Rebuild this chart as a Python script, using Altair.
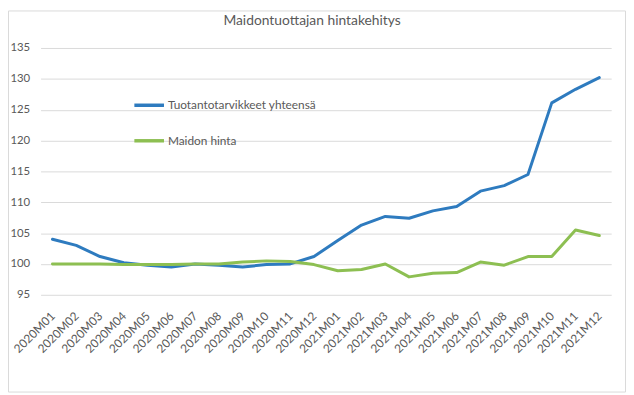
import altair as alt
import pandas as pd

months = ["2020M01", "2020M02", "2020M03", "2020M04", "2020M05", "2020M06",
          "2020M07", "2020M08", "2020M09", "2020M10", "2020M11", "2020M12",
          "2021M01", "2021M02", "2021M03", "2021M04", "2021M05", "2021M06",
          "2021M07", "2021M08", "2021M09", "2021M10", "2021M11", "2021M12"]
tuotantotarvikkeet = [104.0, 103.0, 101.2, 100.2, 99.8, 99.5, 100.0, 99.8, 99.5, 99.9, 100.0, 101.2,
                      103.8, 106.3, 107.7, 107.4, 108.6, 109.3, 111.8, 112.7, 114.5, 126.1, 128.3, 130.2]
maidon_hinta = [100.0, 100.0, 100.0, 99.9, 99.9, 99.9, 100.0, 100.0, 100.3, 100.5, 100.4, 99.9,
                98.9, 99.1, 100.0, 97.9, 98.5, 98.6, 100.3, 99.8, 101.2, 101.2, 105.5, 104.6]
series_names = ["Tuotantotarvikkeet yhteensä", "Maidon hinta"]
series_colors = ["#2E7BBF", "#8DBF52"]
y_ticks = [95, 100, 105, 110, 115, 120, 125, 130, 135]

rows = []
for name, vals in zip(series_names, [tuotantotarvikkeet, maidon_hinta]):
    for m, v in zip(months, vals):
        rows.append({"kuukausi": m, "sarja": name, "arvo": v})
df = pd.DataFrame(rows)

FONT = "Lato"
GRAY = "#595959"
W, H = 578, 250
PAD = {"left": 33, "top": 38, "right": 15, "bottom": 99}

lines = alt.Chart(df).mark_line(strokeWidth=3, strokeCap="round", strokeJoin="round").encode(
    x=alt.X("kuukausi:N", sort=months, title=None,
            scale=alt.Scale(paddingInner=0, paddingOuter=0),
            axis=alt.Axis(labelAngle=-45, labelFont=FONT, labelFontSize=12, labelColor=GRAY,
                          ticks=False, domain=False, grid=False, labelPadding=19,
                          labelAlign="right", labelBaseline="middle")),
    y=alt.Y("arvo:Q", title=None,
            scale=alt.Scale(domain=[95, 135], nice=False, zero=False),
            axis=alt.Axis(values=y_ticks, labelFont=FONT, labelFontSize=11.5, labelColor=GRAY,
                          ticks=False, domain=False, gridColor="#D9D9D9", gridWidth=1,
                          labelPadding=11)),
    color=alt.Color("sarja:N", sort=series_names,
                    scale=alt.Scale(domain=series_names, range=series_colors),
                    legend=alt.Legend(title=None, orient="none", legendX=93, legendY=41,
                                      symbolType="stroke", symbolSize=900, symbolStrokeWidth=3.5,
                                      labelFont=FONT, labelFontSize=12, labelColor=GRAY,
                                      labelOffset=2, rowPadding=12)),
)

frame = alt.Chart(pd.DataFrame({"k": [0]})).mark_rect(
    fill=None, stroke="#D9D9D9", strokeWidth=1
).encode(
    x=alt.value(-PAD["left"] + 0.5), x2=alt.value(W + PAD["right"] - 0.5),
    y=alt.value(-PAD["top"] + 0.5), y2=alt.value(H + PAD["bottom"] - 0.5)
)

chart = alt.layer(frame, lines).properties(
    width=W, height=H,
    padding=PAD,
    autosize=alt.AutoSizeParams(type="none"),
    title=alt.TitleParams("Maidontuottajan hintakehitys", font=FONT, fontSize=14,
                          fontWeight="normal", color=GRAY, anchor="middle", dx=-14,
                          offset=-18),
).configure_view(stroke=None)

chart.save("out.html", embed_options={"renderer": "svg", "actions": False})
